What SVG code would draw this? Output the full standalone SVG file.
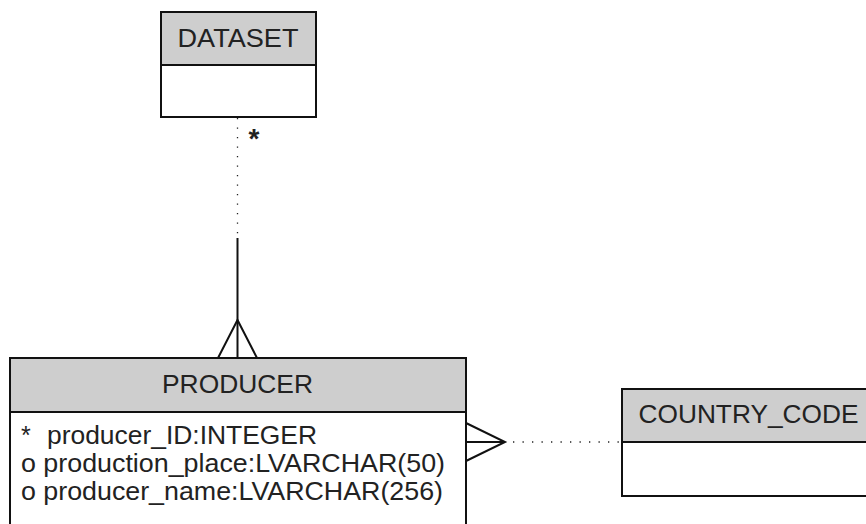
<svg xmlns="http://www.w3.org/2000/svg" width="866" height="524" viewBox="0 0 866 524">
<style>
.box{fill:#ffffff;stroke:#111;stroke-width:2}
.hdr{fill:#cecece;stroke:#111;stroke-width:2}
.t{font-family:"Liberation Sans",Arial,sans-serif;font-size:25px;fill:#222}
.a{font-family:"Liberation Sans",Arial,sans-serif;font-size:25px;fill:#222}
.solid{stroke:#111;stroke-width:2;fill:none}
.dot{stroke:#222;stroke-width:1.3;stroke-dasharray:1.3 8.2;fill:none}
</style>
<rect width="866" height="524" fill="#ffffff"/>
<g id="connectors">
<line class="dot" x1="237.5" y1="118" x2="237.5" y2="237"/>
<line class="solid" x1="237.5" y1="238" x2="237.5" y2="358"/>
<polyline class="solid" points="218,358 237.5,320 257,358"/>
<text x="254" y="148" text-anchor="middle" style="font-family:'Liberation Sans',Arial,sans-serif;font-size:28px;font-weight:bold;fill:#222">*</text>
<line class="solid" x1="466" y1="442" x2="505" y2="442"/>
<polyline class="solid" points="466,423 505,442 466,461"/>
<line class="dot" x1="513" y1="442" x2="620" y2="442"/>
</g>
<g id="DATASET">
<rect class="box" x="161" y="12" width="155" height="105"/>
<rect class="hdr" x="161" y="12" width="155" height="53"/>
<text class="t" x="177.5" y="46.5" textLength="121" lengthAdjust="spacingAndGlyphs">DATASET</text>
</g>
<g id="PRODUCER">
<rect class="box" x="10" y="358" width="456" height="180"/>
<rect class="hdr" x="10" y="358" width="456" height="54"/>
<text class="t" x="162" y="392.5" textLength="151" lengthAdjust="spacingAndGlyphs">PRODUCER</text>
<text class="a" x="21" y="444">*</text>
<text class="a" x="47" y="444" textLength="270" lengthAdjust="spacingAndGlyphs">producer_ID:INTEGER</text>
<text class="a" x="21" y="472" textLength="424" lengthAdjust="spacingAndGlyphs">o production_place:LVARCHAR(50)</text>
<text class="a" x="21" y="500" textLength="422" lengthAdjust="spacingAndGlyphs">o producer_name:LVARCHAR(256)</text>
</g>
<g id="COUNTRY_CODE">
<rect class="box" x="622" y="389" width="260" height="107"/>
<rect class="hdr" x="622" y="389" width="260" height="53"/>
<text class="t" x="638.5" y="423" textLength="220" lengthAdjust="spacingAndGlyphs">COUNTRY_CODE</text>
</g>
</svg>
